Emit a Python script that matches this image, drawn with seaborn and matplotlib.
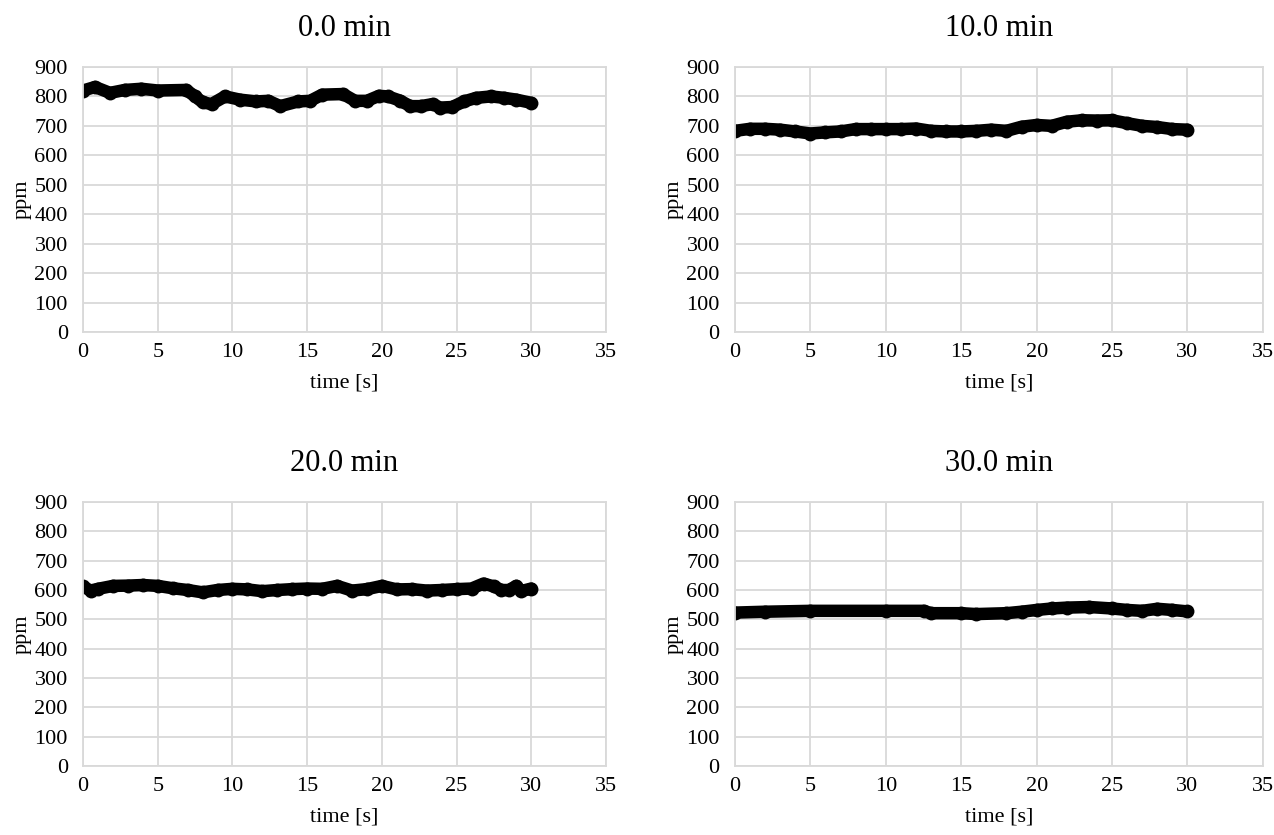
import numpy as np
import pandas as pd
import matplotlib
matplotlib.use("Agg")
import matplotlib.pyplot as plt
import seaborn as sns

titles = ["0.0 min", "10.0 min", "20.0 min", "30.0 min"]

t0 = [0, 0.8, 1.8, 2.8, 3.9, 5, 6.9, 7.5, 8, 8.6, 9.5, 10.5, 11.6, 12.4, 13.2, 14.4, 15.2, 16,
      17.4, 18.2, 19, 19.8, 20.4, 21.2, 21.9, 22.6, 23.4, 23.9, 24.7, 25.5, 26.3, 27.3, 28.2, 29, 30]
p0 = [820, 832, 812, 822, 826, 820, 822, 800, 780, 774, 800, 789, 783, 785, 767, 783, 785, 806,
      808, 785, 785, 802, 800, 786, 767, 767, 774, 762, 764, 783, 795, 800, 795, 789, 778]

t10 = list(range(0, 31))
p10 = [683, 690, 690, 687, 681, 674, 678, 681, 689, 689, 689, 689, 691, 683, 681, 681, 683, 687,
       683, 697, 703, 700, 714, 719, 718, 719, 709, 700, 696, 689, 687]

t20 = [0, 0.5, 1, 2, 3, 4, 5, 6, 7, 8, 9, 10, 11, 12, 13, 14, 15, 16, 17, 18, 19, 20, 21, 22,
       23, 24, 25, 26, 26.8, 27.5, 28, 28.5, 29, 29.3, 30]
p20 = [612, 598, 604, 614, 615, 617, 614, 606, 600, 592, 600, 604, 602, 596, 600, 603, 605, 604,
       614, 598, 603, 614, 602, 603, 598, 600, 603, 605, 622, 612, 600, 600, 614, 596, 605]

t30 = [0, 2, 5, 10, 12.5, 13, 15, 16, 18, 19, 20, 21, 22, 23.5, 25, 26, 27, 28, 29, 30]
p30 = [523, 526, 529, 529, 529, 521, 521, 518, 521, 526, 532, 537, 540, 542, 537, 532, 529, 536, 532, 527]

series = [(t0, p0), (t10, p10), (t20, p20), (t30, p30)]

sns.set_theme(style="whitegrid")
plt.rcParams['font.family'] = ['Liberation Serif', 'DejaVu Serif']
plt.rcParams['text.color'] = 'black'
plt.rcParams['axes.labelcolor'] = 'black'

fig = plt.figure(figsize=(12.74, 8.35), dpi=100)
positions = [
    [0.0652, 0.6024, 0.4105, 0.3174],
    [0.5769, 0.6024, 0.4144, 0.3174],
    [0.0652, 0.0826, 0.4105, 0.3162],
    [0.5769, 0.0826, 0.4144, 0.3162],
]

grid_c = "#d9d9d9"
for pos, title, (tt, pp) in zip(positions, titles, series):
    ax = fig.add_axes(pos)
    df = pd.DataFrame({"time": tt, "ppm": pp})
    sns.lineplot(data=df, x="time", y="ppm", ax=ax, color="black", linewidth=9,
                 marker="o", markersize=10, markeredgewidth=0,
                 solid_capstyle="round", solid_joinstyle="round")
    ax.set_xlim(0, 35)
    ax.set_ylim(0, 900)
    ax.set_xticks(np.arange(0, 36, 5))
    ax.set_yticks(np.arange(0, 901, 100))
    ax.tick_params(axis="y", labelsize=16, length=0, pad=11, colors="black")
    ax.tick_params(axis="x", labelsize=16, length=0, pad=8, colors="black")
    ax.grid(True, color=grid_c, linewidth=1.3)
    for s in ax.spines.values():
        s.set_color(grid_c)
        s.set_linewidth(1.3)
    ax.set_xlabel("time [s]", fontsize=16, labelpad=8, color="black")
    ax.set_ylabel("ppm", fontsize=16, labelpad=2, color="black")
    ax.set_title(title, fontsize=22, pad=22, color="black")
    ax.set_facecolor("white")

fig.savefig("out.png", dpi=100, facecolor="white")
